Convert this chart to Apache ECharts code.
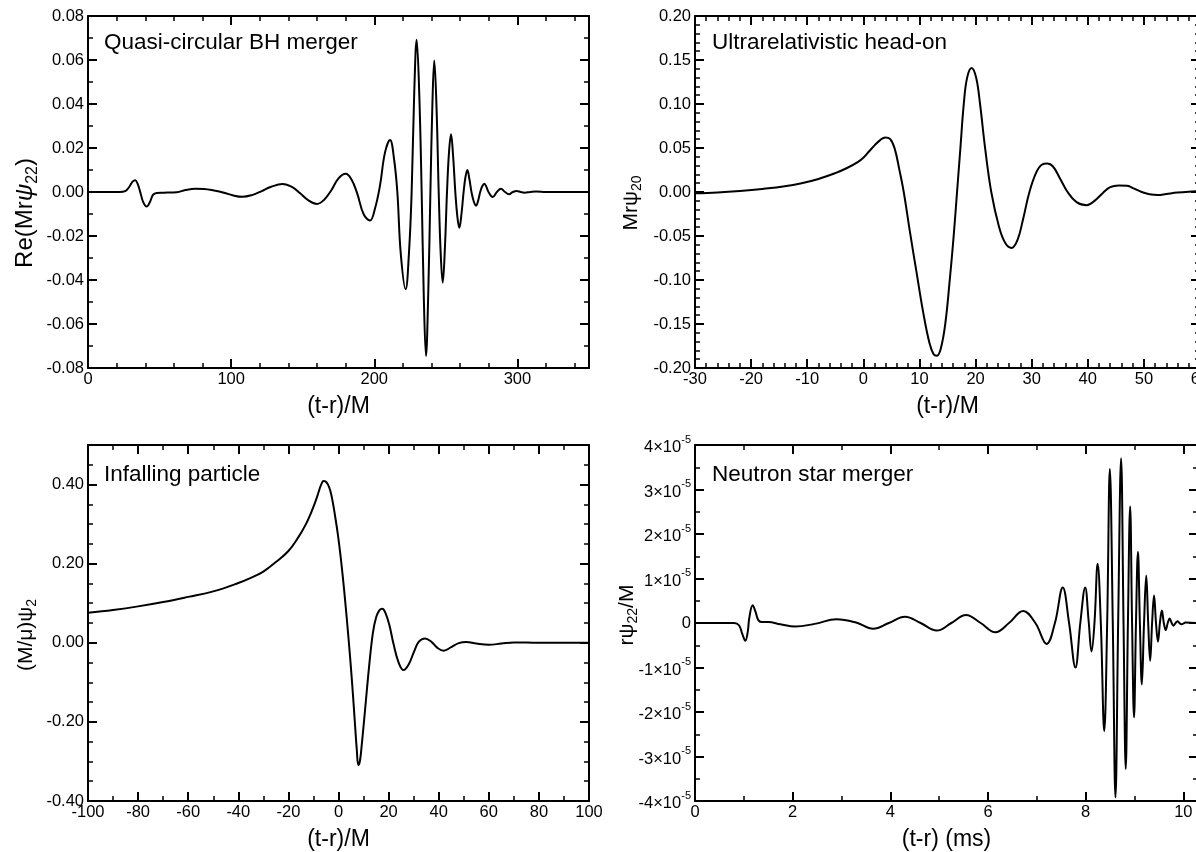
<!DOCTYPE html>
<html>
<head>
<meta charset="utf-8">
<script src="https://cdn.jsdelivr.net/npm/echarts@6/dist/echarts.min.js"></script>
<style>
  html, body { margin: 0; padding: 0; background: #fff; }
  #chart { width: 1196px; height: 852px; }
</style>
</head>
<body>
<div id="chart"></div>
<script>
// Quasi-circular black-hole binary: Re(M r psi_22) against (t-r)/M
const bhWave = [
  [0,0],[22,0],[26,0.0004],[29,0.0025],[31,0.0046],[33,0.0053],[34.8,0.0035],[36.5,0],
  [38.5,-0.0045],[41,-0.0066],[43.3,-0.0045],[45.5,-0.0012],[48,-0.0004],[53,-0.0003],
  [58,-0.0002],[62,-0.0001],[68,0.0009],[75,0.0015],[81,0.0014],[88,0.0007],[95,-0.0003],
  [101,-0.0015],[108,-0.0022],[115,-0.0013],[121,0.0003],[128,0.0024],[136,0.0036],
  [143,0.0021],[148,-0.0005],[154,-0.0038],[160,-0.0054],[165,-0.0035],[170,0.0008],
  [175,0.0062],[180,0.0083],[184,0.0058],[188,-0.0005],[192.5,-0.0100],[197,-0.0130],
  [200.5,-0.0075],[204,0.0030],[207.5,0.0180],[211,0.0236],[213.8,0.0150],[216.1,0],
  [218.5,-0.0280],[221.9,-0.0442],[224.2,-0.0280],[226.1,0],[227.9,0.0450],[229.6,0.0692],
  [231.4,0.0450],[233.1,0],[234.6,-0.0480],[236.1,-0.0745],[237.7,-0.0460],[239.2,0],
  [240.6,0.0400],[241.9,0.0598],[243.5,0.0380],[245,0],[246.4,-0.0280],[247.8,-0.0412],
  [249.3,-0.0260],[250.8,0],[252.2,0.0180],[253.6,0.0262],[255.1,0.0160],[256.6,0],
  [258,-0.0110],[259.4,-0.0163],[260.9,-0.0100],[262.4,0],[263.7,0.0068],[265,0.0100],
  [266.4,0.0060],[267.9,0],[269.5,-0.0043],[271.1,-0.0062],[272.6,-0.0038],[274,0],
  [275.5,0.0027],[276.9,0.0038],[278.4,0.0022],[279.8,0],[282.7,-0.0023],[285.6,0],
  [288.5,0.0015],[291.3,0],[294.1,-0.0010],[296.8,0],[299.5,0.0005],[302.3,0],
  [305,-0.0003],[309,0],[313,0.0002],[320,0],[350,0]
];

// Ultrarelativistic head-on collision: M r psi_20 against (t-r)/M
const hoWave = [
  [-30,-0.0015],[-26,-0.0005],[-22,0.0012],[-18,0.0035],[-14,0.0065],[-11,0.0100],
  [-8,0.0148],[-5,0.0215],[-3,0.0270],[-1,0.0340],[0,0.0390],[1,0.0460],[2,0.0530],
  [3,0.0590],[3.9,0.0620],[4.8,0.0600],[5.6,0.0490],[6.4,0.0260],[7.2,0],[8.3,-0.0450],
  [9.5,-0.0920],[10.7,-0.1380],[11.8,-0.1720],[12.5,-0.1840],[13.1,-0.1860],
  [13.8,-0.1780],[14.6,-0.1500],[15.4,-0.1000],[16.1,-0.0500],[16.7,0],[17.3,0.0500],
  [17.9,0.1000],[18.5,0.1300],[19.3,0.1410],[20.1,0.1300],[20.8,0.1000],[21.7,0.0500],
  [22.8,0],[24.2,-0.0400],[25.3,-0.0580],[26.4,-0.0635],[27.5,-0.0540],[28.5,-0.0300],
  [29.6,0],[30.8,0.0220],[31.8,0.0310],[32.8,0.0323],[33.8,0.0290],[35,0.0160],[36.4,0],
  [38,-0.0115],[39.8,-0.0150],[41.3,-0.0095],[42.7,-0.0010],[44,0.0055],[45.5,0.0075],
  [47,0.0070],[48.3,0.0038],[49.6,0],[51,-0.0025],[52.5,-0.0034],[54,-0.0022],
  [56,-0.0006],[58,0.0004],[60,0.0010]
];

// Point particle falling into a black hole: (M/mu) psi_2 against (t-r)/M
const ipWave = [
  [-100,0.076],[-90,0.083],[-80,0.092],[-70,0.103],[-60,0.116],[-50,0.130],[-40,0.151],
  [-35,0.164],[-30,0.180],[-25,0.204],[-20,0.232],[-16,0.267],[-13,0.300],[-11,0.328],
  [-9.5,0.352],[-8.5,0.370],[-7.5,0.390],[-6.7,0.403],[-6,0.409],[-5.2,0.408],
  [-4.3,0.401],[-3.3,0.385],[-2.3,0.356],[-1.3,0.318],[-0.3,0.276],[0.7,0.226],
  [1.7,0.168],[2.7,0.103],[3.7,0.033],[4.7,-0.042],[5.7,-0.125],[6.6,-0.208],
  [7.3,-0.270],[7.9,-0.309],[8.5,-0.300],[9.1,-0.270],[10.7,-0.163],[12.2,-0.061],
  [13.7,0.024],[15,0.064],[16.3,0.082],[17.5,0.086],[18.7,0.076],[20.3,0.045],
  [22,-0.004],[24,-0.050],[26,-0.069],[28,-0.055],[30,-0.025],[32,0.002],[34.5,0.011],
  [37,0.003],[39.5,-0.013],[42,-0.020],[45,-0.011],[48,-0.001],[51,0.002],[55,-0.002],
  [60,-0.005],[65,-0.002],[70,0.001],[80,0],[100,0]
];

// Binary neutron star merger: r psi_22 / M (in units of 1e-5) against (t-r) in ms
const nsWave = [
  [0,0],[0.8,0],[0.9,-0.05],[0.97,-0.25],[1.03,-0.40],[1.08,-0.20],[1.11,0.10],
  [1.18,0.40],[1.24,0.25],[1.3,0.06],[1.38,0.02],[1.5,0.02],[1.75,-0.03],[2.05,-0.08],
  [2.45,-0.02],[2.9,0.085],[3.3,0.01],[3.65,-0.13],[3.97,0],[4.3,0.14],[4.62,0],
  [4.95,-0.17],[5.25,0],[5.55,0.18],[5.85,0],[6.15,-0.21],[6.43,0],[6.72,0.27],[6.97,0],
  [7.2,-0.47],[7.37,0],[7.53,0.80],[7.66,0],[7.79,-1.0],[7.89,0],[7.99,0.80],[8.06,0.05],
  [8.12,-0.64],[8.18,0],[8.245,1.33],[8.31,0],[8.38,-2.43],[8.44,0],[8.495,3.46],
  [8.555,0],[8.61,-3.92],[8.665,0],[8.725,3.70],[8.775,0],[8.82,-3.28],[8.865,0],
  [8.91,2.62],[8.95,0],[8.99,-2.12],[9.03,0],[9.07,1.60],[9.11,0],[9.15,-1.38],[9.195,0],
  [9.24,1.07],[9.28,0],[9.32,-0.85],[9.36,0],[9.40,0.62],[9.44,0],[9.48,-0.42],[9.52,0],
  [9.56,0.28],[9.60,0],[9.64,-0.16],[9.68,0],[9.72,0.10],[9.76,0],[9.80,-0.06],[9.84,0],
  [9.88,0.04],[9.92,0],[9.96,-0.03],[10.05,0.01],[10.3,0]
];

// Labelled tick values
const bhXTicks = [0, 100, 200, 300];
const bhYTicks = [-0.08, -0.06, -0.04, -0.02, 0, 0.02, 0.04, 0.06, 0.08];
const hoXTicks = [-30, -20, -10, 0, 10, 20, 30, 40, 50, 60];
const hoYTicks = [-0.20, -0.15, -0.10, -0.05, 0, 0.05, 0.10, 0.15, 0.20];
const ipXTicks = [-100, -80, -60, -40, -20, 0, 20, 40, 60, 80, 100];
const ipYTicks = [-0.40, -0.20, 0, 0.20, 0.40];
const nsXTicks = [0, 2, 4, 6, 8, 10];
const nsYTicks = [-4, -3, -2, -1, 0, 1, 2, 3, 4];

const titles = ['Quasi-circular BH merger', 'Ultrarelativistic head-on', 'Infalling particle', 'Neutron star merger'];

const FONT = '"Liberation Sans", Arial, Helvetica, sans-serif';
const TICK_FONT = 16.5;

function steps(from, to, step) {
  const out = [];
  const n = Math.floor((to - from) / step + 1e-9);
  for (let i = 0; i <= n; i++) out.push(Math.round((from + i * step) * 1e9) / 1e9);
  return out;
}
const fix2 = v => (Math.abs(v) < 1e-9 ? '0.00' : v.toFixed(2));
const plain = v => String(Math.round(v * 1e6) / 1e6);
const sci = v => (Math.abs(v) < 1e-9 ? '{z|0}' : '{n|' + Math.round(v) + '×10}{e|-5}');

const panels = [
  { grid: { left: 88, top: 16, width: 501, height: 352 }, data: bhWave, xName: '(t-r)/M',
    x: { min: 0, max: 350, major: bhXTicks, minorStep: 20, fmt: plain },
    y: { min: -0.08, max: 0.08, major: bhYTicks, minorStep: 0.01, fmt: fix2 } },
  { grid: { left: 695, top: 16, width: 505, height: 352 }, data: hoWave, xName: '(t-r)/M',
    x: { min: -30, max: 60, major: hoXTicks, minorStep: 2, fmt: plain },
    y: { min: -0.2, max: 0.2, major: hoYTicks, minorStep: 0.01, fmt: fix2 } },
  { grid: { left: 88, top: 445, width: 501, height: 356 }, data: ipWave, xName: '(t-r)/M',
    x: { min: -100, max: 100, major: ipXTicks, minorStep: 10, fmt: plain },
    y: { min: -0.4, max: 0.5, major: ipYTicks, minorStep: 0.05, fmt: fix2 } },
  { grid: { left: 695, top: 445, width: 503, height: 356 }, data: nsWave, xName: '(t-r) (ms)',
    x: { min: 0, max: 10.3, major: nsXTicks, minorStep: 1, fmt: plain },
    y: { min: -4, max: 4, major: nsYTicks, minorStep: 0.5, fmt: sci, rich: true } }
];

const black = '#000';
const labelRich = {
  n: { fontSize: TICK_FONT, fontFamily: FONT, color: black, padding: [5, 0, 0, 0] },
  e: { fontSize: 11, fontFamily: FONT, color: black, verticalAlign: 'top' },
  z: { fontSize: TICK_FONT, fontFamily: FONT, color: black }
};

function axesFor(dim, gi, spec, name) {
  const minorVals = steps(spec.min, spec.max, spec.minorStep)
    .filter(v => !spec.major.some(m => Math.abs(m - v) < 1e-9));
  const sides = dim === 'x' ? ['bottom', 'top'] : ['left', 'right'];
  const out = [];
  sides.forEach((pos, k) => {
    const main = {
      type: 'value', gridIndex: gi, position: pos, min: spec.min, max: spec.max,
      axisLine: { show: true, onZero: false, lineStyle: { color: black, width: 2 } },
      axisTick: { show: true, inside: true, length: 9, customValues: spec.major,
                  lineStyle: { color: black, width: 2 } },
      axisLabel: { show: k === 0, customValues: spec.major, formatter: spec.fmt,
                   color: black, fontFamily: FONT, fontSize: TICK_FONT,
                   margin: dim === 'x' ? 3 : 4, hideOverlap: false },
      splitLine: { show: false }
    };
    if (spec.rich) main.axisLabel.rich = labelRich;
    if (k === 0 && name) {
      main.name = name;
      main.nameLocation = 'middle';
      main.nameGap = 27;
      main.nameTextStyle = { fontSize: 23, fontFamily: FONT, color: black };
    }
    out.push(main);
    out.push({
      type: 'value', gridIndex: gi, position: pos, min: spec.min, max: spec.max,
      axisLine: { show: false, onZero: false },
      axisTick: { show: true, inside: true, length: 5, customValues: minorVals,
                  lineStyle: { color: black, width: 1.5 } },
      axisLabel: { show: false },
      splitLine: { show: false }
    });
  });
  return out;
}

const xAxes = [], yAxes = [], series = [];
panels.forEach((p, gi) => {
  xAxes.push(...axesFor('x', gi, p.x, p.xName));
  yAxes.push(...axesFor('y', gi, p.y, null));
  series.push({
    type: 'line', xAxisIndex: gi * 4, yAxisIndex: gi * 4, data: p.data,
    showSymbol: false, smooth: 0.4, silent: true,
    lineStyle: { color: black, width: 2 }
  });
});

// Rotated y-axis titles with subscripts
function nameStyles(size, subSize, drop) {
  return {
    n: { fontSize: size, fontFamily: FONT, fill: black, lineHeight: size, verticalAlign: 'top' },
    i: { fontSize: size, fontFamily: FONT, fill: black, lineHeight: size, verticalAlign: 'top', fontStyle: 'italic' },
    s: { fontSize: subSize, fontFamily: FONT, fill: black, lineHeight: subSize, verticalAlign: 'top', padding: [drop, 0, 0, 0] }
  };
}
const yNames = [
  { text: '{n|Re(Mr}{i|ψ}{s|22}{n|)}', x: 25, y: 213, size: 24, sub: 16, drop: 12 },
  { text: '{n|Mrψ}{s|20}', x: 631, y: 203, size: 21, sub: 14, drop: 10 },
  { text: '{n|(M/μ)ψ}{s|2}', x: 26, y: 635, size: 21, sub: 14, drop: 10 },
  { text: '{n|rψ}{s|22}{n|/M}', x: 627, y: 615, size: 21, sub: 14, drop: 10 }
];
const titlePos = [[104, 43], [712, 43], [104, 475], [712, 475]];

const graphic = [];
titles.forEach((t, i) => graphic.push({
  type: 'text', x: titlePos[i][0], y: titlePos[i][1], silent: true,
  style: { text: t, fontSize: 22.5, fontFamily: FONT, fill: black, verticalAlign: 'middle', align: 'left' }
}));
yNames.forEach(n => graphic.push({
  type: 'text', x: n.x, y: n.y, rotation: Math.PI / 2, silent: true,
  style: { text: n.text, rich: nameStyles(n.size, n.sub, n.drop), align: 'center', verticalAlign: 'middle',
           fontSize: n.size, fontFamily: FONT, fill: black }
}));

const chart = echarts.init(document.getElementById('chart'), null, { renderer: 'canvas' });
chart.setOption({
  animation: false,
  backgroundColor: '#fff',
  grid: panels.map(p => Object.assign({ containLabel: false, outerBoundsMode: 'none' }, p.grid)),
  xAxis: xAxes,
  yAxis: yAxes,
  series: series,
  graphic: graphic
});
</script>
</body>
</html>
